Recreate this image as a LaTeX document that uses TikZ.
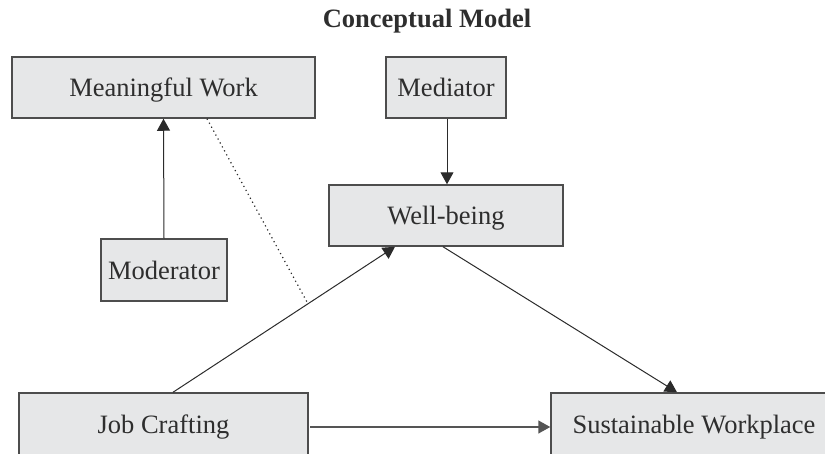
\documentclass[tikz,border=0pt]{standalone}
\usepackage{fontspec}
\setmainfont{Liberation Serif}
\usetikzlibrary{arrows.meta}
\definecolor{boxfill}{HTML}{E6E7E8}
\definecolor{boxline}{HTML}{4D4D4D}
\definecolor{linecol}{HTML}{2B2B2B}
\definecolor{graycol}{HTML}{555555}
\definecolor{textcol}{HTML}{2E2E2E}
\begin{document}
\begin{tikzpicture}[x=1pt,y=-1pt,
  box/.style={draw=boxline, line width=1.5pt, fill=boxfill, inner sep=0pt,
    font=\fontsize{26.5}{30}\selectfont, text=textcol, text height=18pt, text depth=0pt, anchor=center},
  conn/.style={draw=linecol, line width=1pt, -{Triangle[width=13pt,length=12pt]}},
  hconn/.style={conn, draw=graycol, line width=1.5pt},
  dots/.style={draw=linecol, line width=1.2pt, dash pattern=on 1.2pt off 3.3pt}]
\useasboundingbox (0,0) rectangle (825,453);
\node[font=\bfseries\fontsize{26.5}{30}\selectfont, text=textcol, text height=18pt, text depth=0pt, inner sep=0pt] (title) at (427,18) {Conceptual Model};
\node[box, minimum width=303pt, minimum height=61pt] (mw) at (163.5,87.5) {Meaningful Work};
\node[box, minimum width=120pt, minimum height=61pt] (med) at (446,87.5) {Mediator};
\node[box, minimum width=234pt, minimum height=61pt] (wb) at (446,215.5) {Well-being};
\node[box, minimum width=126pt, minimum height=62pt] (mod) at (164,270) {Moderator};
\node[box, minimum width=289pt, minimum height=62pt] (jc) at (163.5,424) {Job Crafting};
\node[box, minimum width=286pt, minimum height=62pt] (sw) at (694,424) {Sustainable Workplace};
\draw[conn] (mod.north) -- (mw.south);
\draw[conn] ([xshift=1pt]med.south) -- ([xshift=1pt]wb.north);
\draw[conn] ([xshift=9.5pt]jc.north) -- coordinate[pos=0.608] (mid) ([xshift=-51pt]wb.south);
\draw[conn] ([xshift=-3pt]wb.south) -- ([xshift=-17pt]sw.north);
\draw[hconn] ([yshift=-3pt,xshift=1.5pt]jc.east) -- ([yshift=-3pt]sw.west);
\draw[dots] ([xshift=43.5pt]mw.south) -- (mid);
\end{tikzpicture}
\end{document}
